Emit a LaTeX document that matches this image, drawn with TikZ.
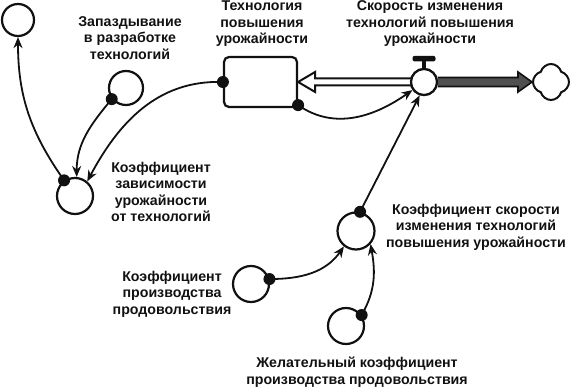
\documentclass[tikz,border=0pt]{standalone}
\usepackage{fontspec}
\setmainfont{Liberation Sans}
\usepackage{tikz}
\usetikzlibrary{arrows.meta, positioning, shapes.symbols, calc}
\definecolor{Ink}{HTML}{111111}
\definecolor{Pipe}{HTML}{505050}

\begin{document}
\begin{tikzpicture}[
  x=1pt, y=1pt,
  font=\bfseries\fontsize{14.2}{16.5}\selectfont,
  aux/.style={circle, draw=Ink, line width=2.2pt, fill=white, inner sep=0pt, minimum size=35pt},
  level/.style={rectangle, rounded corners=5pt, draw=Ink, line width=2.2pt, fill=white, minimum width=73pt, minimum height=50pt},
  txt/.style={align=center, text=Ink, inner sep=0pt},
  knob/.style={circle, fill=Ink, inner sep=0pt, minimum size=12pt},
  link/.style={-{Stealth[length=11pt,width=9pt]}, line width=1.8pt, draw=Ink}
]
\useasboundingbox (0,0) rectangle (570,388);

% stock, rate and auxiliaries
\node[level] (tech) at (260.5,306) {};
\node[aux, minimum size=26pt] (rate) at (424,306) {};
\node[cloud, cloud puffs=4, aspect=1, draw=Ink, line width=2pt, fill=white, inner sep=0pt, minimum size=36pt] (sink) at (551,306) {};
\node[aux, minimum size=32pt] (outaux) at (18,368) {};
\node[aux, minimum size=34pt] (delay) at (126,300) {};
\node[aux, minimum size=36pt] (coef) at (75,192) {};
\node[aux, minimum size=37pt] (speed) at (356,157) {};
\node[aux, minimum size=36pt] (prod) at (251,104) {};
\node[aux, minimum size=36pt] (desired) at (346,62) {};

% labels
\node[txt] (delaytxt) at (130,350) {Запаздывание\\в разработке\\технологий};
\node[txt] (techtxt) at (262,364) {Технология\\повышения\\урожайности};
\node[txt] (ratetxt) at (430,364) {Скорость изменения\\технологий повышения\\урожайности};
\node[txt] (coeftxt) at (161,196) {Коэффициент\\зависимости\\урожайности\\от технологий};
\node[txt] (speedtxt) at (476,161) {Коэффициент скорости\\изменения технологий\\повышения урожайности};
\node[txt] (prodtxt) at (172,94) {Коэффициент\\производства\\продовольствия};
\node[txt] (desiredtxt) at (357,16) {Желательный коэффициент\\производства продовольствия};

% flows
\draw[Ink, line width=2pt, fill=white, line join=miter]
  ($(rate.west)+(1,3.5)$) -- ($(tech.east)+(17,3.5)$) -- ($(tech.east)+(17,10)$) -- (tech.east)
  -- ($(tech.east)+(17,-10)$) -- ($(tech.east)+(17,-3.5)$) -- ($(rate.west)+(1,-3.5)$);
\draw[Ink, line width=1.6pt, fill=Pipe, line join=miter]
  ($(rate.east)+(0,4.5)$) -- ($(sink.west)+(-14,4.5)$) -- ($(sink.west)+(-14,10)$) -- (sink.west)
  -- ($(sink.west)+(-14,-10)$) -- ($(sink.west)+(-14,-4.5)$) -- ($(rate.east)+(0,-4.5)$);
\node[aux, minimum size=26pt] at (rate) {};
\fill[Ink, rounded corners=2pt] ($(rate.north)+(-11.5,6.5)$) rectangle ($(rate.north)+(11.5,12)$);
\fill[Ink] ($(rate.north)+(-2,-1)$) rectangle ($(rate.north)+(2,7)$);

% links
\draw[link] (coef.125) to[out=125, in=-90] (outaux.south);
\draw[link] (delay.218) to[out=230, in=90] (coef.85);
\draw[link] (tech.west) to[out=178, in=62] (coef.50);
\draw[link] ([yshift=3pt]tech.south east) to[out=-35, in=215] (rate.215);
\draw[link] (speed.78) -- (rate.252);
\draw[link] (prod.15) to[out=0, in=235] (speed.232);
\draw[link] (desired.35) to[out=60, in=-80] (speed.-42);

% dots
\node[knob] (coefdot) at (coef.125) {};
\node[knob] (delaydot) at (delay.218) {};
\node[knob] (techdot) at (tech.west) {};
\node[knob] (techdot2) at ([yshift=3pt]tech.south east) {};
\node[knob] (speeddot) at (speed.78) {};
\node[knob] (proddot) at (prod.15) {};
\node[knob] (desireddot) at (desired.35) {};
\end{tikzpicture}
\end{document}
